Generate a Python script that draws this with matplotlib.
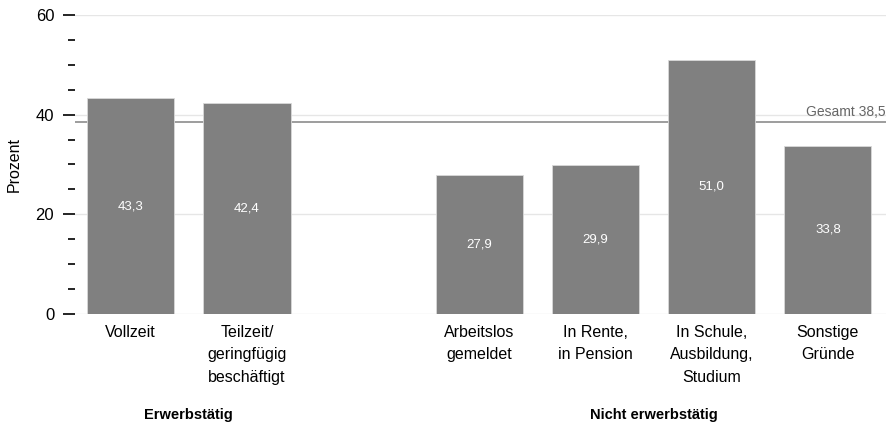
import matplotlib.pyplot as plt
from matplotlib.ticker import MultipleLocator

plt.rcParams['font.family'] = ['Liberation Sans', 'DejaVu Sans']

# Daten
categories = ['Vollzeit', 'Teilzeit/\ngeringfügig\nbeschäftigt',
              'Arbeitslos\ngemeldet', 'In Rente,\nin Pension',
              'In Schule,\nAusbildung,\nStudium', 'Sonstige\nGründe']
values = [43.3, 42.4, 27.9, 29.9, 51.0, 33.8]
positions = [0, 1, 3, 4, 5, 6]
groups = ['Erwerbstätig', 'Nicht erwerbstätig']
group_members = [[0, 1], [2, 3, 4, 5]]
total = 38.5


def fmt(v):
    return f'{v:.1f}'.replace('.', ',')


fig = plt.figure(figsize=(8.86, 4.29), dpi=100)
ax = fig.add_axes([75 / 886, 1 - 314 / 429, 811 / 886, 299 / 429])

ax.set_xlim(-0.48, 6.5)
ax.set_ylim(0, 60)

# Gitterlinien
for y in [0, 20, 40, 60]:
    ax.axhline(y, color='#e6e6e6', lw=1, zorder=0)

# Gesamtlinie
ax.axhline(total, color='#8c8c8c', lw=1.2, zorder=1)
ax.text(6.5, total + 0.6, 'Gesamt ' + fmt(total), ha='right', va='bottom',
        fontsize=10, color='#666666')

bars = ax.bar(positions, values, width=0.75, color='#808080',
              edgecolor='#d9d9d9', linewidth=0.6, zorder=2)
for p, v in zip(positions, values):
    ax.text(p, v / 2, fmt(v), ha='center', va='center', color='white',
            fontsize=9.5, zorder=3)

# Achsen
for s in ax.spines.values():
    s.set_visible(False)
ax.yaxis.set_major_locator(MultipleLocator(20))
ax.yaxis.set_minor_locator(MultipleLocator(5))
ax.tick_params(axis='y', which='major', length=9, width=1.2, labelsize=12,
               pad=6, color='black')
ax.tick_params(axis='y', which='minor', length=5, width=1.2, color='black')
ax.set_ylabel('Prozent', fontsize=11.5, labelpad=10)

ax.set_xticks(positions)
ax.set_xticklabels(categories, fontsize=11.5, linespacing=1.6)
ax.tick_params(axis='x', length=0, pad=8)

# Gruppenbeschriftungen
for g, members in zip(groups, group_members):
    center = sum(positions[i] for i in members) / len(members)
    ax.text(center, -20.2, g, ha='center', va='center', fontsize=10.5,
            fontweight='bold')

fig.savefig('out.png', dpi=100)
